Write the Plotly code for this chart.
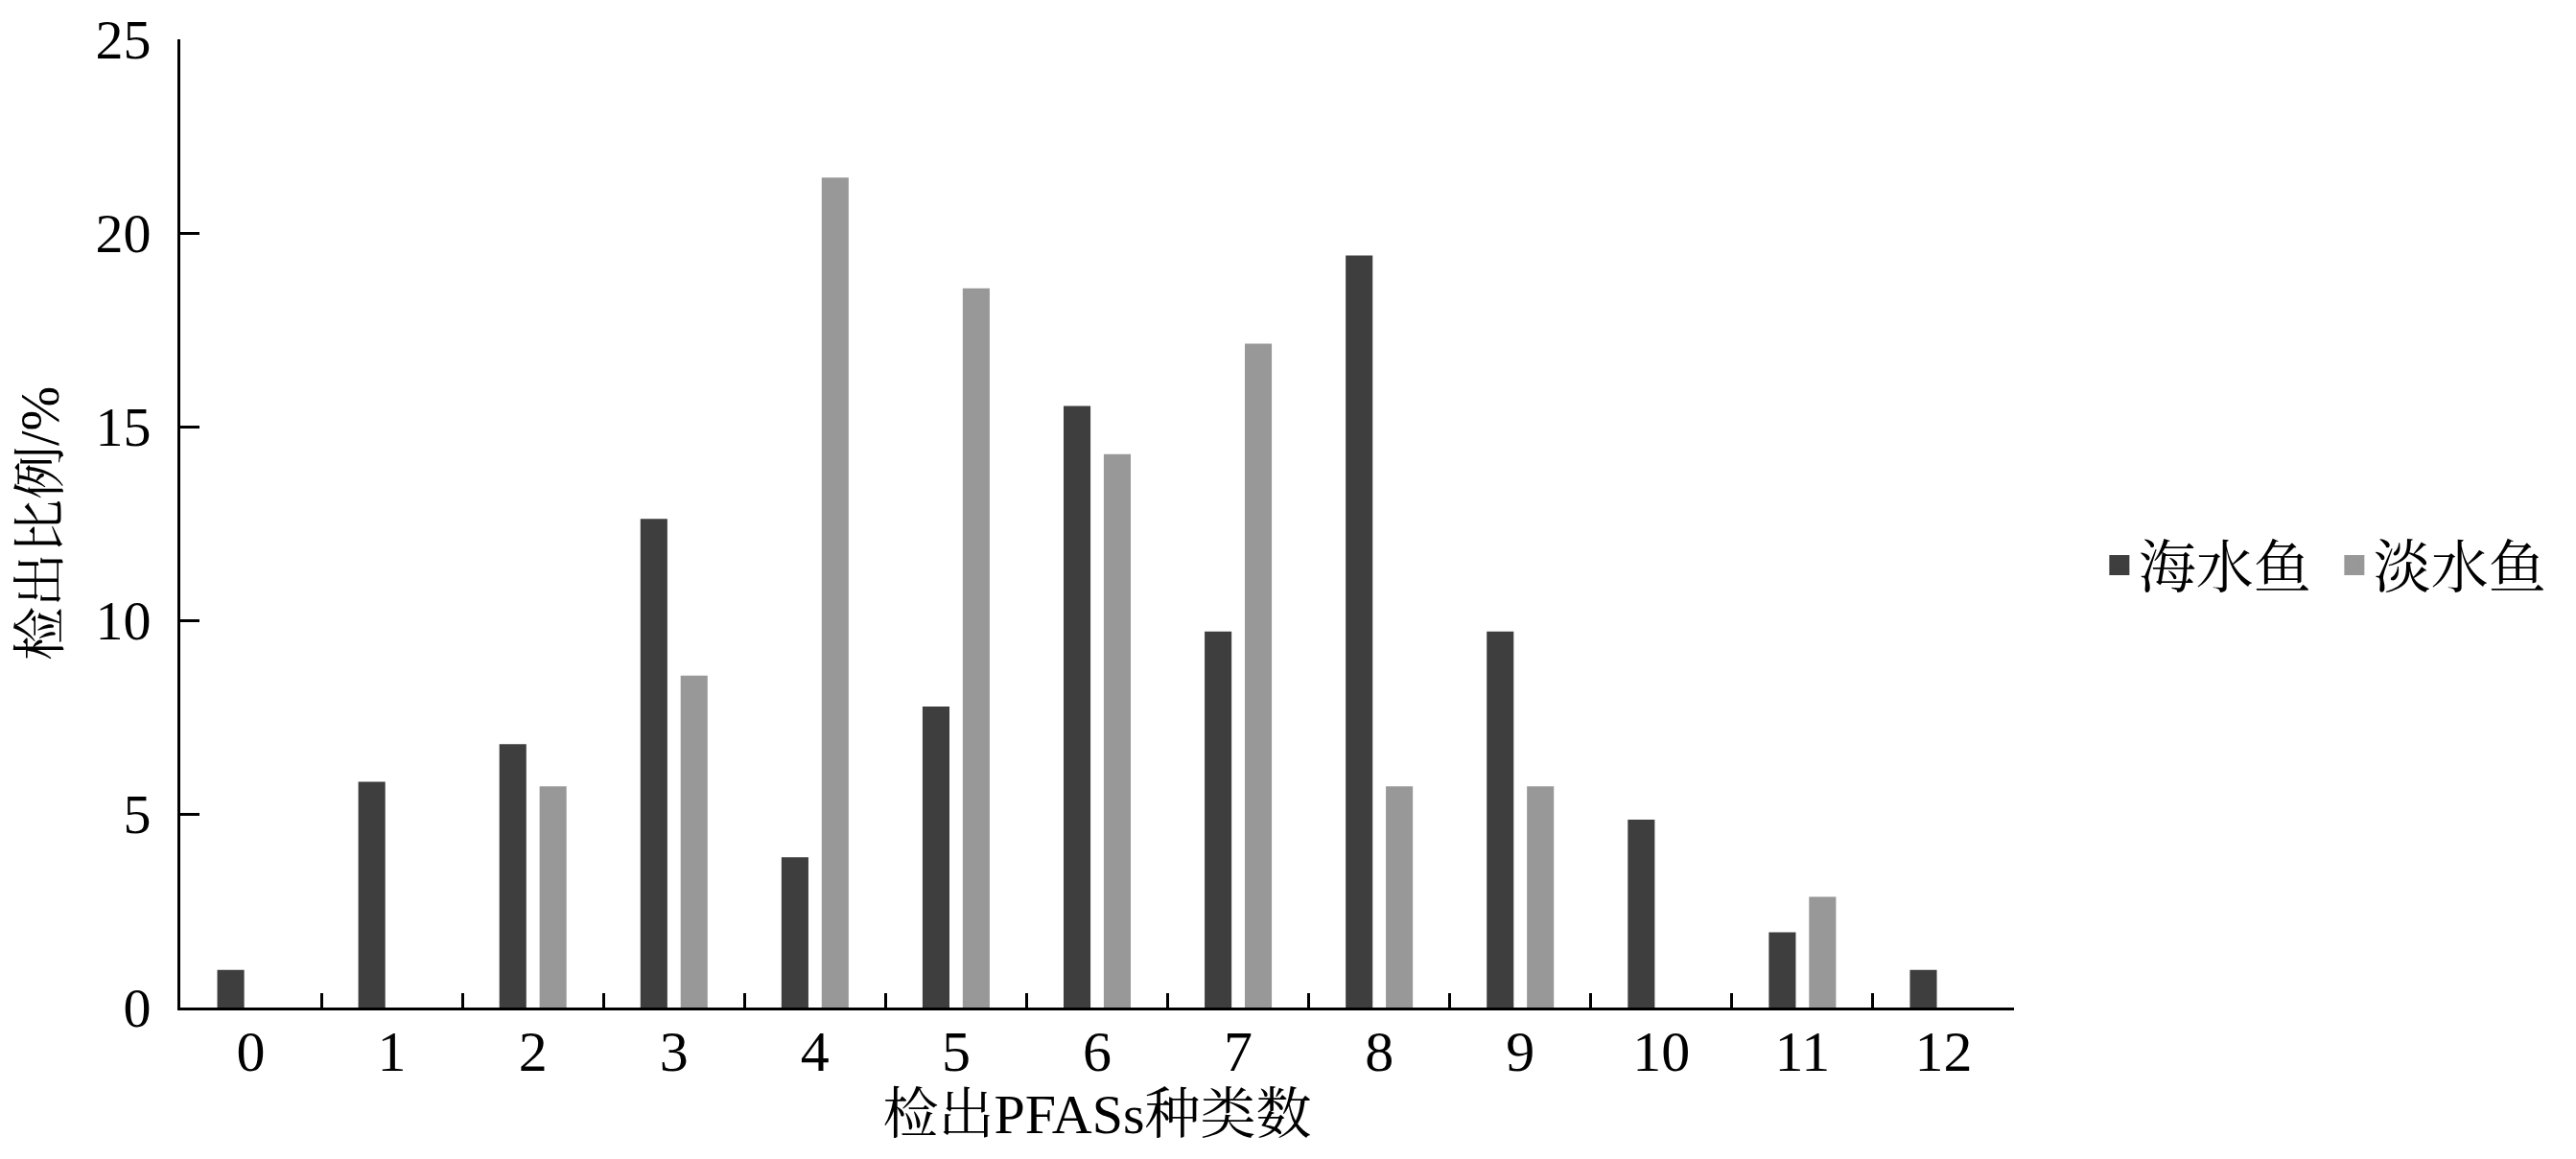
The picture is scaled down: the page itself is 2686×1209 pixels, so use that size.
import plotly.graph_objects as go

categories = ["0", "1", "2", "3", "4", "5", "6", "7", "8", "9", "10", "11", "12"]
seawater = [0.97, 5.83, 6.80, 12.62, 3.88, 7.77, 15.53, 9.71, 19.42, 9.71, 4.85, 1.94, 0.97]
freshwater = [0, 0, 5.71, 8.57, 21.43, 18.57, 14.29, 17.14, 5.71, 5.71, 0, 2.86, 0]
series_names = ["海水鱼", "淡水鱼"]
y_ticks = [0, 5, 10, 15, 20, 25]

SERIF = "Liberation Serif, Times New Roman, Noto Serif CJK SC, Noto Sans CJK SC, serif"
DARK = "#3e3e3e"
LIGHT = "#989898"

fig = go.Figure()
fig.add_trace(go.Bar(x=categories, y=seawater, name=series_names[0],
                     marker=dict(color=DARK, line=dict(width=0)), showlegend=False))
fig.add_trace(go.Bar(x=categories, y=freshwater, name=series_names[1],
                     marker=dict(color=LIGHT, line=dict(width=0)), showlegend=False))
# legend entries
fig.add_trace(go.Scatter(x=[None], y=[None], mode="markers", name=series_names[0],
                         marker=dict(symbol="square", size=30, color=DARK,
                                     line=dict(color=DARK, width=5))))
fig.add_trace(go.Scatter(x=[None], y=[None], mode="markers", name=series_names[1],
                         marker=dict(symbol="square", size=30, color=LIGHT,
                                     line=dict(color=LIGHT, width=5))))

fig.update_layout(
    width=2686, height=1209,
    margin=dict(l=180, r=594, t=33, b=166, autoexpand=False),
    paper_bgcolor="white", plot_bgcolor="white",
    barmode="group", bargap=0.43, bargroupgap=0.33,
    font=dict(family=SERIF, color="black", size=58),
    legend=dict(orientation="h", x=1.047, xanchor="left", y=0.457, yanchor="middle",
                font=dict(size=60, family=SERIF), itemsizing="trace",
                entrywidth=200, entrywidthmode="pixels",
                bgcolor="rgba(0,0,0,0)", tracegroupgap=0, itemwidth=30),
    xaxis=dict(type="category", range=[-0.5, 12.5], showline=True, linecolor="black",
               linewidth=3, ticks="inside", tickson="boundaries", ticklen=15,
               tickwidth=3, tickcolor="black", showgrid=False, zeroline=False,
               automargin=False,
               tickfont=dict(size=60, family=SERIF), ticklabelstandoff=-9,
               title=dict(text="检出PFASs种类数", font=dict(size=58, family=SERIF), standoff=12)),
    yaxis=dict(range=[0, 25], tickvals=y_ticks, showline=True, linecolor="black",
               linewidth=3, ticks="inside", ticklen=20, tickwidth=3, tickcolor="black",
               showgrid=False, zeroline=False, automargin=False,
               tickfont=dict(size=58, family=SERIF), ticklabelstandoff=16,
               title=dict(text="检出比例/%", font=dict(size=56, family=SERIF), standoff=20)),
)

fig.write_html("out.html")
